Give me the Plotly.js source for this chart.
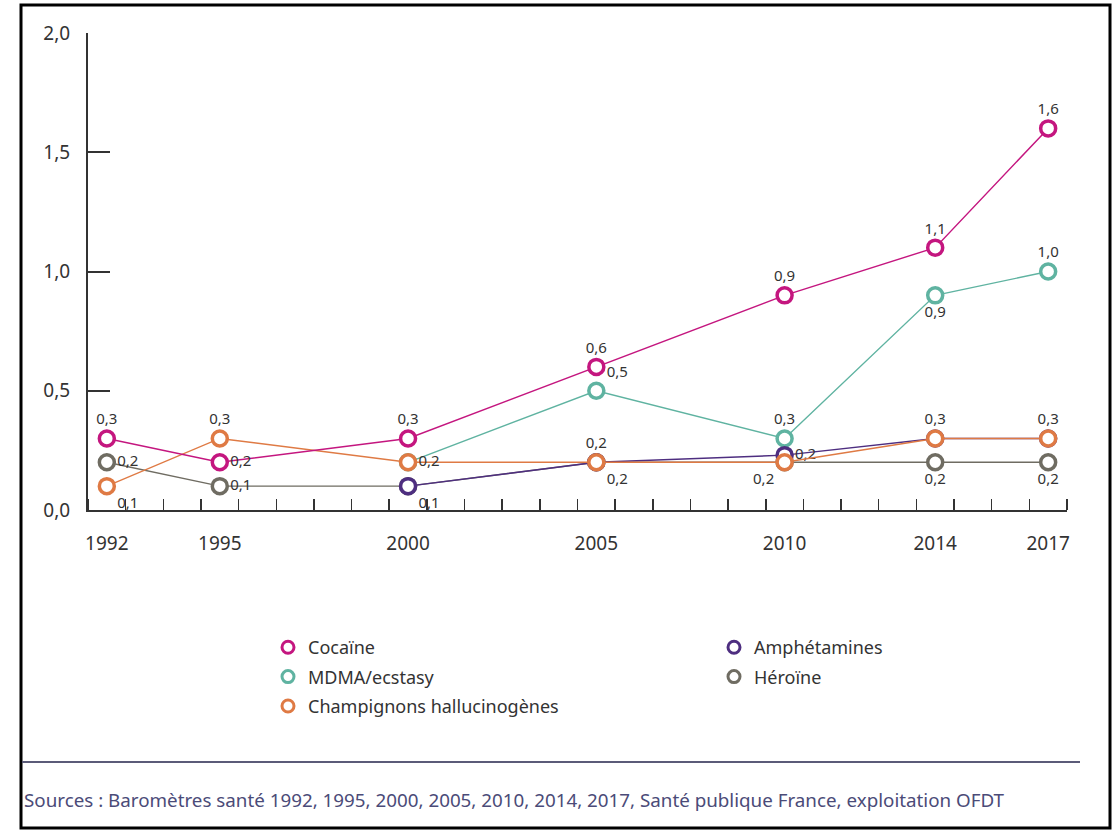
<!DOCTYPE html>
<html>
<head>
<meta charset="utf-8">
<script src="https://cdn.plot.ly/plotly-3.0.1.min.js"></script>
<style>
  html, body { margin: 0; padding: 0; background: #ffffff; }
  #chart { width: 1117px; height: 831px; }
</style>
</head>
<body>
<div id="chart"></div>
<script>
// ---- Data ----
const years = [1992, 1995, 2000, 2005, 2010, 2014, 2017];
const xTickLabels = ['1992', '1995', '2000', '2005', '2010', '2014', '2017'];
const yTickValues = [0, 0.5, 1.0, 1.5, 2.0];

const cocaine      = [0.3, 0.2, 0.3, 0.6, 0.9, 1.1, 1.6];
const mdma         = [null, null, 0.2, 0.5, 0.3, 0.9, 1.0];
const champignons  = [0.1, 0.3, 0.2, 0.2, 0.2, 0.3, 0.3];
const amphetamines = [null, null, 0.1, 0.2, 0.23, 0.3, 0.3];
const heroine      = [0.2, 0.1, 0.1, 0.2, 0.2, 0.2, 0.2];

const seriesNames = ['Cocaïne', 'MDMA/ecstasy', 'Champignons hallucinogènes', 'Amphétamines', 'Héroïne'];
const sourceText = 'Sources : Baromètres santé 1992, 1995, 2000, 2005, 2010, 2014, 2017, Santé publique France, exploitation OFDT';

// where each value label sits ('' = no label drawn)
const cocainePos = ['top center', 'middle right', 'top center', 'top center', 'top center', 'top center', 'top center'];
const mdmaPos    = ['', '', '', 'top right', 'top center', 'bottom center', 'top center'];
const champPos   = ['bottom right', 'top center', 'middle right', 'top center', 'bottom left', 'top center', 'top center'];
const amphPos    = ['', '', 'bottom right', '', 'middle right', '', ''];
const heroPos    = ['middle right', 'middle right', '', 'bottom right', '', 'bottom center', 'bottom center'];

// ---- Styles ----
const colors = {
  cocaine: '#c4167f',
  mdma: '#5fb3a1',
  champ: '#df7a44',
  amph: '#4e2e80',
  hero: '#6f6c62'
};
const FONT = '"Noto Sans", "Open Sans", "DejaVu Sans", sans-serif';
const TXT = '#333333';

function fmt(v) { return v == null ? '' : v.toFixed(1).replace('.', ','); }
function labels(vals, pos) { return vals.map((v, i) => (pos[i] ? fmt(v) : '')); }
function positions(pos) { return pos.map(p => p || 'top center'); }

function trace(name, vals, pos, color) {
  return {
    type: 'scatter',
    mode: 'lines+markers+text',
    name: name,
    x: years,
    y: vals,
    connectgaps: false,
    text: labels(vals, pos),
    textposition: positions(pos),
    textfont: { family: FONT, size: 15, color: TXT },
    line: { color: color, width: 1.4 },
    marker: { symbol: 'circle', size: 15, color: '#ffffff', line: { color: color, width: 3.5 } },
    cliponaxis: false,
    hoverinfo: 'x+y+name',
    showlegend: false
  };
}

// legend entries: marker only, as in the reference key
function key(name, color, legend, rank) {
  return {
    type: 'scatter',
    mode: 'markers',
    name: name,
    x: [null],
    y: [null],
    marker: { symbol: 'circle', size: 12, color: '#ffffff', line: { color: color, width: 3 } },
    legend: legend,
    legendgroup: name,
    legendrank: rank,
    showlegend: true,
    hoverinfo: 'skip'
  };
}

const data = [
  trace(seriesNames[4], heroine, heroPos, colors.hero),
  trace(seriesNames[1], mdma, mdmaPos, colors.mdma),
  trace(seriesNames[3], amphetamines, amphPos, colors.amph),
  trace(seriesNames[2], champignons, champPos, colors.champ),
  trace(seriesNames[0], cocaine, cocainePos, colors.cocaine),
  key(seriesNames[0], colors.cocaine, 'legend', 1),
  key(seriesNames[1], colors.mdma, 'legend', 2),
  key(seriesNames[2], colors.champ, 'legend', 3),
  key(seriesNames[3], colors.amph, 'legend2', 1),
  key(seriesNames[4], colors.hero, 'legend2', 2)
];

// plot area in pixels: x 88..1067, y 33..510
const L = 88, R = 1067, T = 33, B = 510;
const W = 1117, H = 831;
const px = p => (p - L) / (R - L);
const py = p => (B - p) / (B - T);

const legendCommon = {
  orientation: 'v',
  font: { family: FONT, size: 18, color: TXT },
  bgcolor: 'rgba(0,0,0,0)',
  borderwidth: 0,
  tracegroupgap: 3,
  traceorder: 'grouped',
  xanchor: 'left',
  yanchor: 'top',
  itemclick: false
};

const layout = {
  width: W,
  height: H,
  margin: { l: L, r: W - R, t: T, b: H - B, pad: 0 },
  paper_bgcolor: '#ffffff',
  plot_bgcolor: '#ffffff',
  separators: ', ',
  font: { family: FONT, size: 18, color: TXT },
  showlegend: true,
  xaxis: {
    range: [1991.5, 2017.5],
    tickmode: 'array',
    tickvals: years,
    ticktext: xTickLabels,
    ticks: '',
    ticklabelstandoff: 15,
    tickfont: { family: FONT, size: 19, color: TXT },
    showline: true,
    linecolor: '#333333',
    linewidth: 2,
    showgrid: false,
    zeroline: false,
    fixedrange: true,
    minor: { tickmode: 'linear', tick0: 1991.5, dtick: 1, ticks: 'inside', ticklen: 11, tickwidth: 1.5, tickcolor: '#333333', showgrid: false }
  },
  yaxis: {
    range: [0, 2],
    tickmode: 'array',
    tickvals: yTickValues,
    tickformat: '.1f',
    ticks: 'inside',
    ticklen: 22,
    tickwidth: 2,
    tickcolor: '#333333',
    ticklabelstandoff: 12,
    tickfont: { family: FONT, size: 19, color: TXT },
    showline: true,
    linecolor: '#333333',
    linewidth: 2,
    showgrid: false,
    zeroline: false,
    fixedrange: true
  },
  legend: Object.assign({}, legendCommon, { x: px(268), y: py(629) }),
  legend2: Object.assign({}, legendCommon, { x: px(714), y: py(629) }),
  shapes: [
    { type: 'rect', xref: 'paper', yref: 'paper', x0: px(21), x1: px(1110), y0: py(828), y1: py(5),
      line: { color: '#000000', width: 3 }, fillcolor: 'rgba(0,0,0,0)', layer: 'above' },
    { type: 'line', xref: 'paper', yref: 'paper', x0: px(22), x1: px(1080), y0: py(762), y1: py(762),
      line: { color: '#5b5b78', width: 2 } }
  ],
  annotations: [
    { xref: 'paper', yref: 'paper', x: px(22), y: py(800), xanchor: 'left', yanchor: 'middle',
      text: sourceText, showarrow: false,
      font: { family: FONT, size: 18.8, color: '#4b4b78' } }
  ]
};

Plotly.newPlot('chart', data, layout, { displayModeBar: false, staticPlot: true });
</script>
</body>
</html>
